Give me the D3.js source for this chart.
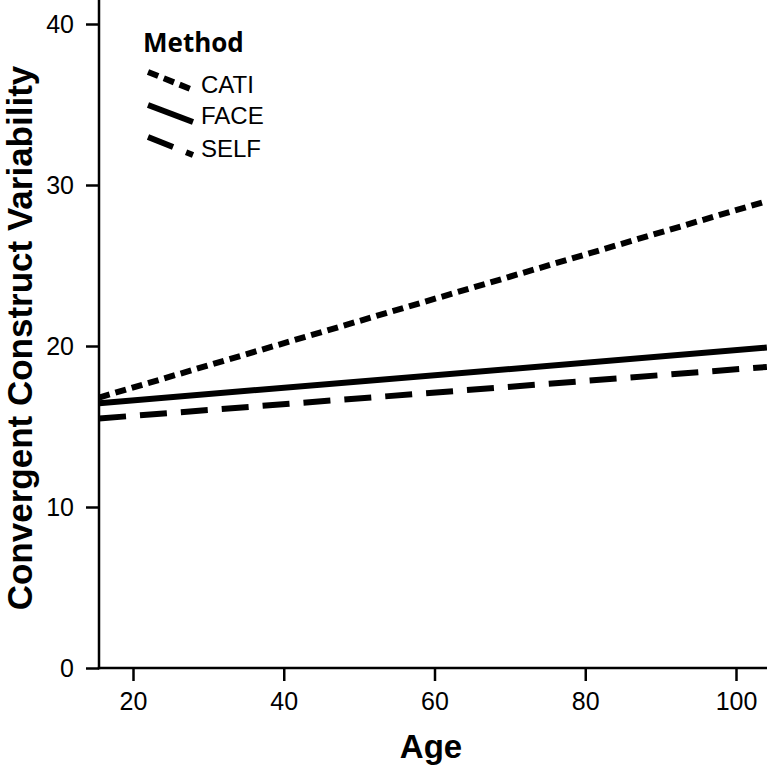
<!DOCTYPE html>
<html>
<head>
<meta charset="utf-8">
<script src="https://cdn.jsdelivr.net/npm/d3@7"></script>
<style>
  html, body { margin: 0; padding: 0; background: #fff; }
  svg { display: block; }
</style>
</head>
<body>
<svg id="chart" width="767" height="767"></svg>
<script>
// ---- data ----
const methods = ["CATI", "FACE", "SELF"];
const ages = [15.5, 104.1];
const catiValues = [16.8, 29.0];
const faceValues = [16.45, 19.9];
const selfValues = [15.5, 18.7];
const xTicks = [20, 40, 60, 80, 100];
const yTicks = [0, 10, 20, 30, 40];
const legendTitle = "Method";
const xTitle = "Age";
const yTitle = "Convergent Construct Variability";

const dashes = { CATI: "11,6", FACE: null, SELF: "27,14" };
const series = [
  { name: "CATI", values: catiValues },
  { name: "FACE", values: faceValues },
  { name: "SELF", values: selfValues }
];

const svg = d3.select("#chart");
const plotLeft = 99, plotRight = 767, plotTop = 0, plotBottom = 668;

const x = d3.scaleLinear().domain([20, 100]).range([133, 736]);
const y = d3.scaleLinear().domain([0, 40]).range([668, 24]);

const font = "'Liberation Sans', Arial, sans-serif";

// clip
svg.append("defs").append("clipPath").attr("id", "plotclip")
  .append("rect").attr("x", plotLeft).attr("y", plotTop)
  .attr("width", plotRight - plotLeft).attr("height", plotBottom - plotTop);

// axes
const yAxis = svg.append("g").attr("transform", `translate(${plotLeft},0)`)
  .call(d3.axisLeft(y).tickValues(yTicks).tickSize(13).tickPadding(12).tickSizeOuter(0));
yAxis.select(".domain").remove();
yAxis.selectAll(".tick line").attr("stroke", "#000").attr("stroke-width", 2.5);
yAxis.selectAll(".tick text").attr("font-family", font).attr("font-size", 25).attr("fill", "#000");

const xAxis = svg.append("g").attr("transform", `translate(0,${plotBottom})`)
  .call(d3.axisBottom(x).tickValues(xTicks).tickSize(13).tickPadding(11).tickSizeOuter(0));
xAxis.select(".domain").remove();
xAxis.selectAll(".tick line").attr("stroke", "#000").attr("stroke-width", 2.5);
xAxis.selectAll(".tick text").attr("font-family", font).attr("font-size", 25).attr("fill", "#000");

svg.append("line").attr("x1", plotLeft).attr("x2", plotLeft)
  .attr("y1", plotTop).attr("y2", plotBottom + 1.25)
  .attr("stroke", "#000").attr("stroke-width", 2.5);
svg.append("line").attr("x1", plotLeft - 1.25).attr("x2", plotRight)
  .attr("y1", plotBottom).attr("y2", plotBottom)
  .attr("stroke", "#000").attr("stroke-width", 2.5);

// lines
const lineGen = d3.line().x((d, i) => x(ages[i])).y(d => y(d));
const lg = svg.append("g").attr("clip-path", "url(#plotclip)");
series.forEach(s => {
  lg.append("path").datum(s.values)
    .attr("d", lineGen)
    .attr("fill", "none")
    .attr("stroke", "#000")
    .attr("stroke-width", 6)
    .attr("stroke-linecap", "butt")
    .attr("stroke-dasharray", dashes[s.name]);
});

// titles
svg.append("text").attr("x", 431).attr("y", 758)
  .attr("text-anchor", "middle").attr("font-family", font)
  .attr("font-weight", "bold").attr("font-size", 33).text(xTitle);

svg.append("text").attr("transform", "translate(32,338) rotate(-90)")
  .attr("text-anchor", "middle").attr("font-family", font)
  .attr("font-weight", "bold").attr("font-size", 35).text(yTitle);

// legend
svg.append("text").attr("x", 143).attr("y", 52)
  .attr("font-family", "'Open Sans', sans-serif").attr("font-weight", "bold")
  .attr("font-size", 26).text(legendTitle);

const legendRows = [
  { name: "CATI", y1: 72, y2: 90, ty: 93 },
  { name: "FACE", y1: 105, y2: 122, ty: 124 },
  { name: "SELF", y1: 137, y2: 155, ty: 157 }
];
legendRows.forEach(r => {
  svg.append("line").attr("x1", 148).attr("y1", r.y1).attr("x2", 193).attr("y2", r.y2)
    .attr("stroke", "#000").attr("stroke-width", 6).attr("stroke-linecap", "butt")
    .attr("stroke-dasharray", dashes[r.name]);
  svg.append("text").attr("x", 201).attr("y", r.ty)
    .attr("font-family", font).attr("font-size", 24).text(r.name);
});
</script>
</body>
</html>
